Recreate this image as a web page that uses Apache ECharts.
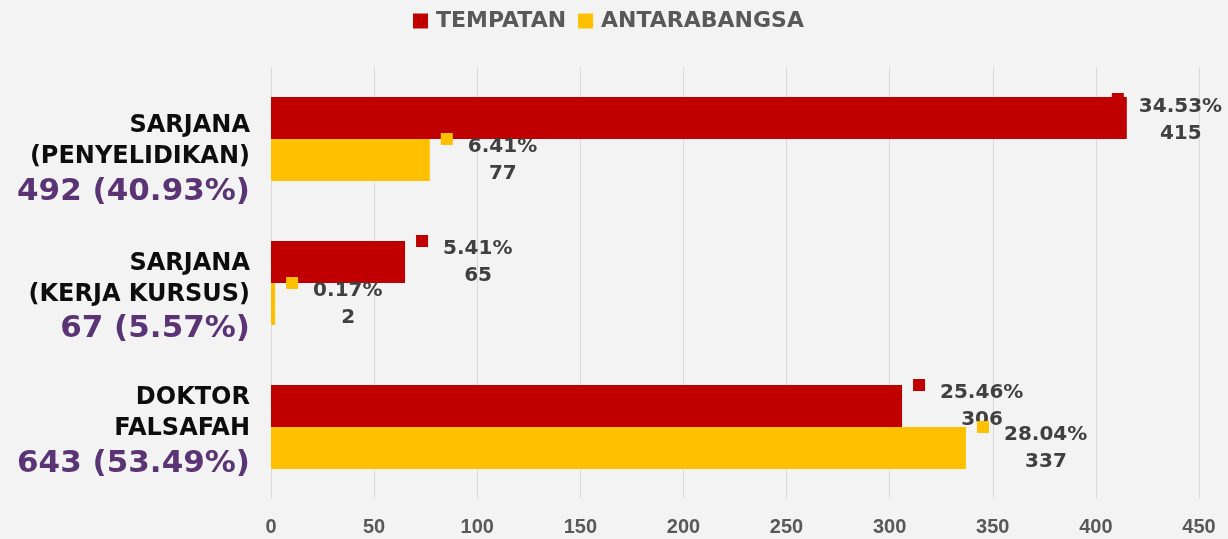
<!DOCTYPE html>
<html>
<head>
<meta charset="utf-8">
<script src="https://cdn.jsdelivr.net/npm/echarts@6/dist/echarts.min.js"></script>
<style>
  html, body { margin: 0; padding: 0; background: #f3f3f3; }
  #chart { width: 1228px; height: 539px; }
</style>
</head>
<body>
<div id="chart"></div>
<script>
// categories top to bottom
const categories = ['SARJANA\n(PENYELIDIKAN)', 'SARJANA\n(KERJA KURSUS)', 'DOKTOR\nFALSAFAH'];
const totals = ['492 (40.93%)', '67 (5.57%)', '643 (53.49%)'];

const tempatan = [415, 65, 306];
const tempatanPct = ['34.53%', '5.41%', '25.46%'];
const antarabangsa = [77, 2, 337];
const antarabangsaPct = ['6.41%', '0.17%', '28.04%'];

const xMin = 0;
const xMax = 450;
const xStep = 50;

const RED = '#c00000';
const YELLOW = '#ffc000';
const FONT = '"DejaVu Sans", sans-serif';
const LABEL_FONT = 'bold 20px "DejaVu Sans"';

const chart = echarts.init(document.getElementById('chart'));

// measure percent text so the count can be centred under it
const measureCtx = document.createElement('canvas').getContext('2d');
measureCtx.font = LABEL_FONT;
const textWidth = s => Math.ceil(measureCtx.measureText(s).width);

function valueLabel(color, pct) {
  const txt = { fontSize: 20, fontWeight: 'bold', color: '#404040', fontFamily: FONT };
  return {
    show: true,
    position: 'right',
    distance: 11,
    align: 'left',
    fontFamily: FONT,
    formatter: p => '{m|}{s|}{p|' + p.data.pct + '}\n{w|}{v|' + p.value + '}',
    rich: {
      m: { width: 12, height: 12, backgroundColor: color, verticalAlign: 'top' },
      s: { width: 15, height: 1 },
      p: Object.assign({ lineHeight: 28 }, txt),
      w: { width: 27, height: 1 },
      v: Object.assign({ lineHeight: 26, width: textWidth(pct), align: 'center' }, txt)
    }
  };
}

function barData(values, pcts, color) {
  return values.map((v, i) => {
    const label = valueLabel(color, pcts[i]);
    // the longest bar's label is pulled back so it stays inside the chart
    if (v > 400) label.offset = [-26, 2];
    return { value: v, pct: pcts[i], label: label };
  });
}

// first line of each category label gets a top pad so the block sits a bit lower
const catPad = [43, 30, 11];
const catRich = {
  n: { fontSize: 24, fontWeight: 'bold', color: '#0d0d0d', fontFamily: FONT, lineHeight: 31, align: 'right' },
  t: { fontSize: 31, fontWeight: 'bold', color: '#5a3474', fontFamily: FONT, lineHeight: 38, align: 'right' }
};
catPad.forEach((pad, i) => {
  catRich['h' + i] = { fontSize: 24, fontWeight: 'bold', color: '#0d0d0d', fontFamily: FONT, height: 31, padding: [pad, 0, 0, 0], align: 'right' };
});

const option = {
  backgroundColor: '#f3f3f3',
  animation: false,
  legend: {
    top: 5,
    left: 408,
    icon: 'rect',
    itemWidth: 15,
    itemHeight: 15,
    itemGap: 12,
    textStyle: { fontFamily: FONT, fontSize: 22, fontWeight: 'bold', color: '#595959', padding: [0, 0, 0, 3] },
    data: ['TEMPATAN', 'ANTARABANGSA']
  },
  grid: {
    left: 271,
    right: 29,
    top: 67,
    bottom: 40,
    containLabel: false,
    outerBoundsMode: 'none'
  },
  xAxis: {
    type: 'value',
    min: xMin,
    max: xMax,
    interval: xStep,
    axisLine: { show: false },
    axisTick: { show: false },
    splitLine: { show: true, lineStyle: { color: '#d9d9d9', width: 1 } },
    axisLabel: {
      margin: 18,
      fontFamily: '"Liberation Sans Narrow", "Liberation Sans", sans-serif',
      fontSize: 20,
      fontWeight: 'bold',
      color: '#595959'
    }
  },
  yAxis: {
    type: 'category',
    inverse: true,
    data: categories,
    axisLine: { show: false },
    axisTick: { show: false },
    axisLabel: {
      margin: 21,
      align: 'right',
      formatter: (val, idx) => {
        const lines = val.split('\n');
        return lines.map((l, k) => '{' + (k === 0 ? 'h' + idx : 'n') + '|' + l + '}').join('\n') +
          '\n{t|' + totals[idx] + '}';
      },
      rich: catRich
    }
  },
  series: [
    {
      name: 'TEMPATAN',
      type: 'bar',
      barWidth: 42,
      barGap: '0%',
      itemStyle: { color: RED },
      data: barData(tempatan, tempatanPct, RED)
    },
    {
      name: 'ANTARABANGSA',
      type: 'bar',
      barWidth: 42,
      barGap: '0%',
      itemStyle: { color: YELLOW },
      data: barData(antarabangsa, antarabangsaPct, YELLOW)
    }
  ]
};

chart.setOption(option);
</script>
</body>
</html>
